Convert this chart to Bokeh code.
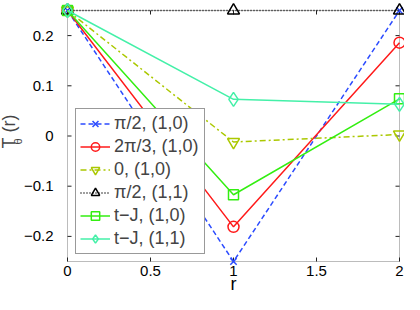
import math
from bokeh.plotting import figure
from bokeh.models import Range1d, Legend, LegendItem, Label, BoxAnnotation
from bokeh.core.properties import value
from bokeh.embed import file_html
from bokeh.resources import INLINE

# ---- data ----
R = [0, 1, 2]
S_PI2_10 = [0.25, -0.25, 0.25]
S_2PI3_10 = [0.25, -0.181, 0.186]
S_0_10 = [0.25, -0.012, 0.003]
S_PI2_11 = [0.25, 0.25, 0.25]
S_TJ_10 = [0.25, -0.117, 0.074]
S_TJ_11 = [0.25, 0.073, 0.063]
SERIES_LABELS = ["π/2, (1,0)", "2π/3, (1,0)", "0, (1,0)",
                 "π/2, (1,1)", "t−J, (1,0)", "t−J, (1,1)"]
X_TICKS = [0, 0.5, 1, 1.5, 2]
X_TICK_LABELS = ["0", "0.5", "1", "1.5", "2"]
Y_TICKS = [-0.2, -0.1, 0, 0.1, 0.2]
Y_TICK_LABELS = ["−0.2", "−0.1", "0", "0.1", "0.2"]
X_MIN, X_MAX = 0, 2
Y_MIN, Y_MAX = -0.25, 0.25

# ---- geometry (pixels) ----
W, H = 404, 294
BOX_L, BOX_R, BOX_T, BOX_B = 67, 399, 10, 261
PXX = (BOX_R - BOX_L) / (X_MAX - X_MIN)
PXY = (BOX_B - BOX_T) / (Y_MAX - Y_MIN)
X_LO = X_MIN - BOX_L / PXX
X_HI = X_MAX + (W - BOX_R) / PXX
Y_HI = Y_MAX + BOX_T / PXY
Y_LO = Y_MIN - (H - BOX_B) / PXY


def px_x(fx):
    return X_LO + fx / PXX


def px_y(fy):
    return Y_HI - fy / PXY


FONT = "Liberation Sans"

p = figure(width=W, height=H, output_backend="svg", toolbar_location=None,
           x_range=Range1d(X_LO, X_HI), y_range=Range1d(Y_LO, Y_HI),
           x_axis_location=None, y_axis_location=None,
           min_border=0, min_border_left=0, min_border_right=0,
           min_border_top=0, min_border_bottom=0)
p.outline_line_color = None
p.grid.visible = False
p.background_fill_color = "white"
p.border_fill_color = "white"

# axes box
box = BoxAnnotation(left=X_MIN, right=X_MAX, bottom=Y_MIN, top=Y_MAX,
                    fill_alpha=0, line_color="#222222", line_width=1, level="underlay")
p.add_layout(box)

# inward ticks
TL = 4
tx = TL / PXX
ty = TL / PXY
nx, ny = len(X_TICKS), len(Y_TICKS)
p.segment(x0=X_TICKS, y0=[Y_MIN] * nx, x1=X_TICKS, y1=[Y_MIN + ty] * nx,
          line_color="#222222", line_width=1)
p.segment(x0=X_TICKS, y0=[Y_MAX] * nx, x1=X_TICKS, y1=[Y_MAX - ty] * nx,
          line_color="#222222", line_width=1)
p.segment(x0=[X_MIN] * ny, y0=Y_TICKS, x1=[X_MIN + tx] * ny, y1=Y_TICKS,
          line_color="#222222", line_width=1)
p.segment(x0=[X_MAX] * ny, y0=Y_TICKS, x1=[X_MAX - tx] * ny, y1=Y_TICKS,
          line_color="#222222", line_width=1)

# tick labels
p.text(x=[px_x(53)] * ny, y=Y_TICKS, text=Y_TICK_LABELS, text_align="right",
       text_baseline="middle", text_font=value(FONT), text_font_size="15px",
       text_color="black")
p.text(x=X_TICKS, y=[px_y(265)] * nx, text=X_TICK_LABELS, text_align="center",
       text_baseline="top", text_font=value(FONT), text_font_size="15px",
       text_color="black")

STYLES = [
    (S_PI2_10, "#2b4bff", "5 3", "x", 9),
    (S_2PI3_10, "#ff1a1a", "solid", "circle", 11),
    (S_0_10, "#abc800", "6 3 2 3", "inverted_triangle", 12),
    (S_PI2_11, "black", "1 2", "triangle", 12),
    (S_TJ_10, "#33ee11", "solid", "square", 10),
    (S_TJ_11, "#44f0a8", "solid", "diamond", 14),
]

items = []
for (vals, col, dash, mk, sz), lab in zip(STYLES, SERIES_LABELS):
    lr = p.line(R, vals, line_color=col, line_width=1.5, line_dash=dash)
    sr = p.scatter(R, vals, marker=mk, size=sz, line_color=col, fill_color=None, line_width=1.5)
    items.append(LegendItem(label=lab, renderers=[lr, sr]))

legend = Legend(items=items, location=(BOX_L + 8, H - BOX_B + 7), padding=4, spacing=2,
                glyph_height=21, label_height=21, glyph_width=30, label_standoff=4,
                label_width=86, label_text_font=FONT, label_text_font_size="18px",
                border_line_color="#333333", border_line_width=1,
                background_fill_color="white", background_fill_alpha=1, margin=0)
p.add_layout(legend)

# axis titles
p.text(x=[(X_MIN + X_MAX) / 2], y=[px_y(293.5)], text=["r"], text_align="center",
       text_baseline="bottom", text_font=value(FONT), text_font_size="18px",
       text_color="black")
p.add_layout(Label(x=px_x(-2), y=px_y(148), text="T", angle=math.pi / 2,
                   text_align="left", text_baseline="top", text_font=FONT, text_font_size="18px"))
p.add_layout(Label(x=px_x(11), y=px_y(144), text="θ", angle=math.pi / 2,
                   text_align="left", text_baseline="top", text_font=FONT, text_font_size="11px"))
p.add_layout(Label(x=px_x(-2), y=px_y(132), text="(r)", angle=math.pi / 2,
                   text_align="left", text_baseline="top", text_font=FONT, text_font_size="18px"))

open("out.html", "w").write(file_html(p, INLINE))
